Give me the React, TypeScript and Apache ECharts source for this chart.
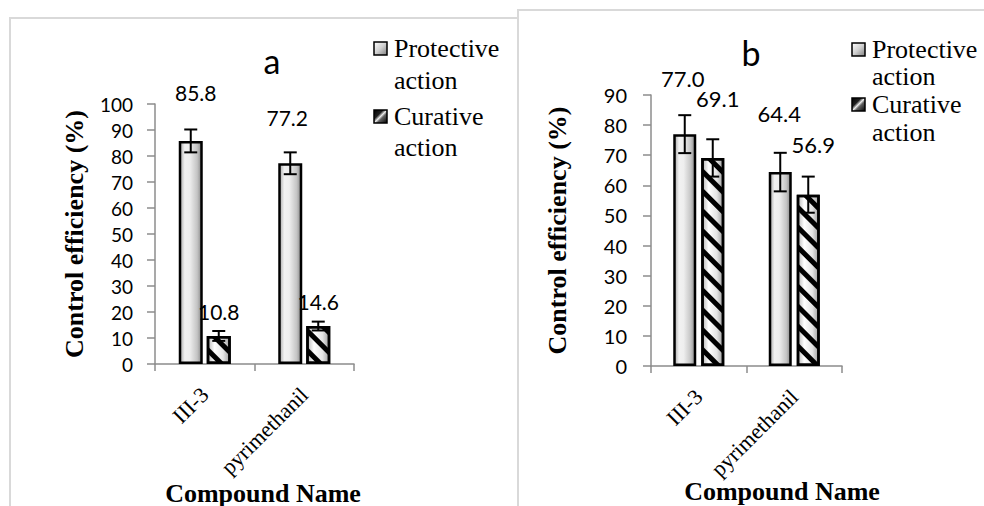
import React, { useEffect, useRef } from "react";
import * as echarts from "echarts";

// ---- data ----
const categories = ["III-3", "pyrimethanil"];
const seriesNames = ["Protective action", "Curative action"];

const aProtective = [85.8, 77.2];
const aProtectiveErr = [4.4, 4.2];
const aCurative = [10.8, 14.6];
const aCurativeErr = [1.9, 1.7];

const bProtective = [77.0, 64.4];
const bProtectiveErr = [6.3, 6.4];
const bCurative = [69.1, 56.9];
const bCurativeErr = [6.2, 6.0];

const aAxisMax = 100;
const bAxisMax = 90;
const axisInterval = 10;

const panelTitles = ["a", "b"];
const xAxisTitle = "Compound Name";
const yAxisTitle = "Control efficiency (%)";

// ---- styles ----
const SERIF = "Liberation Serif";
const SANS = "Lato";

const protGrad = {
  type: "linear", x: 0, y: 0, x2: 1, y2: 0,
  colorStops: [
    { offset: 0, color: "#a8a8a8" },
    { offset: 0.22, color: "#f2f2f2" },
    { offset: 0.45, color: "#eeeeee" },
    { offset: 0.8, color: "#c4c4c4" },
    { offset: 1, color: "#8a8a8a" },
  ],
};
const curGrad = {
  type: "linear", x: 0, y: 0, x2: 1, y2: 0,
  colorStops: [
    { offset: 0, color: "#b8b8b8" },
    { offset: 0.3, color: "#ffffff" },
    { offset: 0.7, color: "#e4e4e4" },
    { offset: 1, color: "#a0a0a0" },
  ],
};
const stripeDecal = {
  symbol: "rect",
  symbolSize: 1,
  dashArrayX: [1, 0],
  dashArrayY: [5, 9],
  rotation: Math.PI / 4,
  color: "#000",
};

function errorSeries(g: number, vals: number[], errs: number[], offset: number) {
  return {
    type: "custom",
    xAxisIndex: g,
    yAxisIndex: g,
    z: 10,
    silent: true,
    encode: { x: 0, y: 1 },
    data: vals.map((v, i) => [i, v, errs[i]]),
    renderItem: (params: any, api: any) => {
      const x = api.value(0);
      const v = api.value(1);
      const e = api.value(2);
      const top = api.coord([x, v + e]);
      const bot = api.coord([x, v - e]);
      const cx = top[0] + offset;
      const half = 6.5;
      const style = { stroke: "#000", lineWidth: 2 };
      return {
        type: "group",
        children: [
          { type: "line", shape: { x1: cx, y1: top[1], x2: cx, y2: bot[1] }, style },
          { type: "line", shape: { x1: cx - half, y1: top[1], x2: cx + half, y2: top[1] }, style },
          { type: "line", shape: { x1: cx - half, y1: bot[1], x2: cx + half, y2: bot[1] }, style },
        ],
      };
    },
  };
}

function barSeries(
  g: number, name: string, vals: number[], barWidth: number, gapPx: number,
  labelOffsets: number[][], labelSize: number, curative: boolean
) {
  return {
    type: "bar",
    name,
    xAxisIndex: g,
    yAxisIndex: g,
    barWidth,
    barGap: `${(gapPx / barWidth) * 100}%`,
    data: vals.map((v, i) => ({ value: v, label: { offset: labelOffsets[i] } })),
    itemStyle: {
      color: curative ? curGrad : protGrad,
      borderColor: "#000",
      borderWidth: 2.5,
      decal: curative ? stripeDecal : undefined,
    },
    label: {
      show: true,
      position: "top",
      distance: 0,
      formatter: (p: any) => Number(p.value).toFixed(1),
      fontFamily: SANS,
      fontSize: labelSize,
      color: "#000",
    },
  };
}

function legendGroup(x: number, y1: number, y2: number, lh1: number, lh2: number) {
  const protIcon = new echarts.graphic.LinearGradient(0, 0, 1, 1, [
    { offset: 0, color: "#ffffff" },
    { offset: 0.5, color: "#d0d0d0" },
    { offset: 1, color: "#808080" },
  ]);
  const curIcon = new echarts.graphic.LinearGradient(0, 0, 1, 1, [
    { offset: 0, color: "#000000" },
    { offset: 0.35, color: "#202020" },
    { offset: 0.5, color: "#e8e8e8" },
    { offset: 0.62, color: "#606060" },
    { offset: 1, color: "#000000" },
  ]);
  const txt = (t: string, y: number, lh: number) => ({
    type: "text", x: x + 20, y: y + 6.5 - lh / 2,
    style: {
      text: t.replace(" ", "\n"), fontFamily: SERIF, fontSize: 26,
      lineHeight: lh, fill: "#000", verticalAlign: "top",
    },
  });
  return [
    { type: "rect", shape: { x, y: y1, width: 13, height: 13 }, style: { fill: protIcon, stroke: "#000", lineWidth: 1.5 } },
    txt(seriesNames[0], y1, lh1),
    { type: "rect", shape: { x, y: y2, width: 13, height: 13 }, style: { fill: curIcon, stroke: "#000", lineWidth: 1.5 } },
    txt(seriesNames[1], y2, lh2),
  ];
}

export default function App() {
  const ref = useRef<HTMLDivElement>(null);
  useEffect(() => {
    if (!ref.current) return;
    const chart = echarts.init(ref.current, undefined, { renderer: "svg" });

    const axisLine = { show: true, lineStyle: { color: "#8c8c8c", width: 1.5 } };
    const axisTick = { show: true, length: 8, lineStyle: { color: "#8c8c8c", width: 1.5 } };

    const xAxis = [0, 1].map((g) => ({
      type: "category",
      gridIndex: g,
      data: categories,
      axisLine,
      axisTick: { ...axisTick, length: 7 },
      axisLabel: { rotate: 45, margin: 27, fontFamily: SERIF, fontSize: 22, color: "#000" },
      splitLine: { show: false },
    }));
    const yAxis = [0, 1].map((g) => ({
      type: "value",
      gridIndex: g,
      min: 0,
      max: g === 0 ? aAxisMax : bAxisMax,
      interval: axisInterval,
      axisLine,
      axisTick,
      splitLine: { show: false },
      axisLabel: { margin: g === 0 ? 22 : 24, fontFamily: SANS, fontSize: g === 0 ? 19 : 20, color: "#000" },
      name: yAxisTitle,
      nameLocation: "middle",
      nameGap: g === 0 ? 68 : 81,
      nameTextStyle: { fontFamily: SERIF, fontWeight: "bold", fontSize: 26, color: "#000" },
    }));

    const option: any = {
      animation: false,
      backgroundColor: "#fff",
      grid: [
        { left: 155, top: 104, width: 199, height: 260 },
        { left: 651, top: 95, width: 191, height: 271 },
      ],
      xAxis,
      yAxis,
      series: [
        barSeries(0, seriesNames[0], aProtective, 24, 4, [[5, -38], [-3, -35]], 21, false),
        barSeries(0, seriesNames[1], aCurative, 24, 4, [[0, -14], [0, -14]], 21, true),
        errorSeries(0, aProtective, aProtectiveErr, -14),
        errorSeries(0, aCurative, aCurativeErr, 14),
        barSeries(1, seriesNames[0], bProtective, 23, 5, [[-2, -45], [-1, -48]], 22, false),
        barSeries(1, seriesNames[1], bCurative, 23, 5, [[5, -48], [5, -39]], 22, true),
        errorSeries(1, bProtective, bProtectiveErr, -14),
        errorSeries(1, bCurative, bCurativeErr, 14),
      ],
      graphic: [
        { type: "polyline", shape: { points: [[10, 520], [10, 18], [518, 18]] }, style: { stroke: "#d9d9d9", lineWidth: 2, fill: "none" }, silent: true },
        { type: "polyline", shape: { points: [[518, 520], [518, 10], [990, 10]] }, style: { stroke: "#d9d9d9", lineWidth: 2, fill: "none" }, silent: true },
        { type: "text", x: 272, y: 60, style: { text: panelTitles[0], fontFamily: SANS, fontSize: 34, fill: "#000", align: "center", verticalAlign: "middle" } },
        { type: "text", x: 751, y: 52, style: { text: panelTitles[1], fontFamily: SANS, fontSize: 34, fill: "#000", align: "center", verticalAlign: "middle" } },
        { type: "text", x: 263, y: 480, style: { text: xAxisTitle, fontFamily: SERIF, fontWeight: "bold", fontSize: 26, fill: "#000", align: "center", verticalAlign: "top" } },
        { type: "text", x: 782, y: 478, style: { text: xAxisTitle, fontFamily: SERIF, fontWeight: "bold", fontSize: 26, fill: "#000", align: "center", verticalAlign: "top" } },
        ...legendGroup(374, 42, 110, 32, 31),
        ...legendGroup(852, 43, 98, 27, 28),
      ],
    };
    chart.setOption(option);
    return () => chart.dispose();
  }, []);
  return (
    <div
      ref={ref}
      style={{ position: "fixed", left: 0, top: 0, width: 984, height: 506, background: "#fff" }}
    />
  );
}
